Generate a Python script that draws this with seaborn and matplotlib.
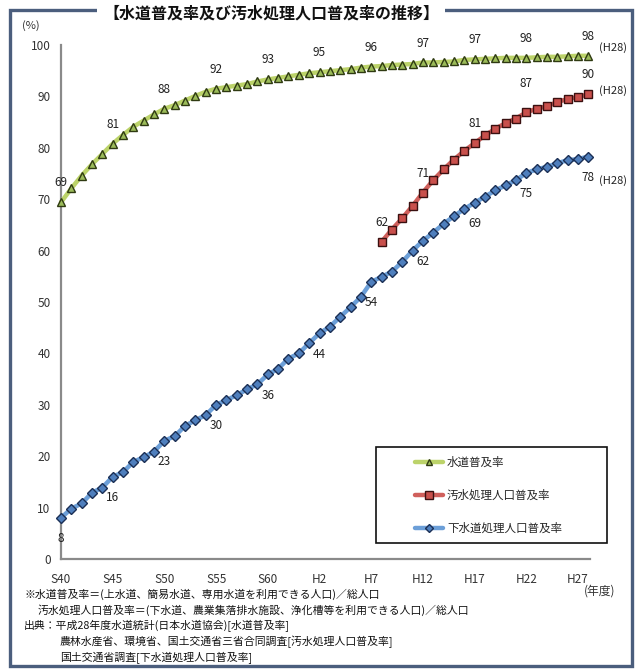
import numpy as np
import pandas as pd
import matplotlib
matplotlib.use("Agg")
import matplotlib.pyplot as plt
from matplotlib.patches import Rectangle
import seaborn as sns

sns.set_style("white")
plt.rcParams["font.family"] = ["Noto Sans CJK JP", "DejaVu Sans"]

# fiscal years S40 (1965) .. H28 (2016)
years = list(range(1965, 2017))
tick_years = [1965, 1970, 1975, 1980, 1985, 1990, 1995, 2000, 2005, 2010, 2015]
tick_labels = ["S40", "S45", "S50", "S55", "S60", "H2", "H7", "H12", "H17", "H22", "H27"]

# 水道普及率 (%)
water = [69.4, 72.1, 74.6, 76.8, 78.8, 80.8, 82.5, 84.1, 85.3, 86.5,
         87.6, 88.3, 89.2, 90.1, 90.9, 91.5, 91.8, 92.1, 92.4, 92.9,
         93.3, 93.6, 93.9, 94.2, 94.5, 94.7, 94.9, 95.1, 95.3, 95.6,
         95.8, 95.9, 96.1, 96.2, 96.3, 96.6, 96.6, 96.7, 96.8, 97.1,
         97.2, 97.3, 97.4, 97.5, 97.5, 97.5, 97.6, 97.7, 97.7, 97.8,
         97.9, 97.9]

# 汚水処理人口普及率 (%), H8 (1996) ..
sewage_years = list(range(1996, 2017))
sewage = [61.7, 64.1, 66.3, 68.7, 71.3, 73.7, 75.8, 77.7, 79.4, 80.9,
          82.4, 83.7, 84.8, 85.7, 86.9, 87.6, 88.1, 88.9, 89.5, 89.9,
          90.4]

# 下水道処理人口普及率 (%)
sewer = [8.0, 9.8, 10.8, 12.9, 13.9, 16.0, 16.9, 18.9, 19.8, 20.9,
         23.0, 23.9, 25.9, 27.0, 28.0, 30.0, 30.9, 31.9, 33.0, 34.0,
         35.9, 37.0, 39.0, 40.0, 42.0, 43.9, 45.2, 47.1, 49.0, 51.0,
         53.9, 54.9, 55.9, 57.8, 60.0, 61.9, 63.5, 65.2, 66.7, 68.1,
         69.3, 70.5, 71.7, 72.7, 73.7, 75.1, 75.8, 76.3, 77.0, 77.6,
         77.8, 78.3]

labelled_water = [1965, 1970, 1975, 1980, 1985, 1990, 1995, 2000, 2005, 2010, 2016]
labelled_sewage = [1996, 2000, 2005, 2010, 2016]
labelled_sewer = [1965, 1970, 1975, 1980, 1985, 1990, 1995, 2000, 2005, 2010, 2016]

W, H = 636, 670
fig = plt.figure(figsize=(W / 100, H / 100), dpi=100)
fig.patch.set_facecolor("white")

def fx(px):
    return px / W

def fy(py):
    return 1 - py / H

ax = fig.add_axes([fx(61), fy(559), fx(590) - fx(61), fy(45) - fy(559)])

df_w = pd.DataFrame({"year": years, "rate": water})
df_s = pd.DataFrame({"year": sewage_years, "rate": sewage})
df_d = pd.DataFrame({"year": years, "rate": sewer})

sns.lineplot(data=df_w, x="year", y="rate", ax=ax, color="#bcd36a", lw=3.2,
             marker="^", markersize=5.6, markerfacecolor="#9bbb59",
             markeredgecolor="#2f3a12", markeredgewidth=1.0,
             label="水道普及率", clip_on=False, zorder=5)
sns.lineplot(data=df_s, x="year", y="rate", ax=ax, color="#d0605c", lw=3.2,
             marker="s", markersize=6.0, markerfacecolor="#c9504c",
             markeredgecolor="#3a1010", markeredgewidth=1.0,
             label="汚水処理人口普及率", clip_on=False, zorder=5)
sns.lineplot(data=df_d, x="year", y="rate", ax=ax, color="#6c9fd8", lw=3.2,
             marker="D", markersize=4.6, markerfacecolor="#4f7fbd",
             markeredgecolor="#1b2f55", markeredgewidth=1.0,
             label="下水道処理人口普及率", clip_on=False, zorder=5)

ax.set_xlim(1965, 2016.16)
ax.set_ylim(0, 100)
ax.set_xlabel("")
ax.set_ylabel("")
ax.set_xticks(tick_years)
ax.set_xticklabels(tick_labels)
ax.set_yticks(range(0, 101, 10))
ax.tick_params(axis="both", labelsize=8.5, labelcolor="#333333", color="#888888",
               length=4, width=1.2, direction="out")
ax.tick_params(axis="x", pad=6)
for side in ("top", "right"):
    ax.spines[side].set_visible(False)
for side in ("left", "bottom"):
    ax.spines[side].set_color("#8a8a8a")
    ax.spines[side].set_linewidth(1.6)

lab_kw = dict(textcoords="offset points", ha="center", va="center",
              fontsize=8.5, color="#222222", zorder=6)
for yr, v in zip(years, water):
    if yr in labelled_water:
        ax.annotate(f"{v:.0f}", (yr, v), xytext=(0, 14), **lab_kw)
for yr, v in zip(sewage_years, sewage):
    if yr in labelled_sewage:
        dy = 21 if yr == 2010 else 14
        ax.annotate(f"{v:.0f}", (yr, v), xytext=(0, dy), **lab_kw)
for yr, v in zip(years, sewer):
    if yr in labelled_sewer:
        ax.annotate(f"{v:.0f}", (yr, v), xytext=(0, -15), **lab_kw)

# fiscal-year tag beside each final value
ax.annotate("(H28)", (2016, water[-1]), xytext=(18, 6), textcoords="offset points",
            ha="center", va="center", fontsize=8, color="#222222", annotation_clip=False)
ax.annotate("(H28)", (2016, sewage[-1]), xytext=(18, 3), textcoords="offset points",
            ha="center", va="center", fontsize=8, color="#222222", annotation_clip=False)
ax.annotate("(H28)", (2016, sewer[-1]), xytext=(18, -17), textcoords="offset points",
            ha="center", va="center", fontsize=8, color="#222222", annotation_clip=False)

# legend inside a plain black box
leg = ax.legend(loc="upper left", bbox_to_anchor=(fx(410), fy(451)),
                bbox_transform=fig.transFigure, frameon=False, fontsize=8.3,
                labelspacing=1.75, handlelength=2.5, handletextpad=0.3,
                borderaxespad=0, markerscale=0.85)
fig.add_artist(Rectangle((fx(376), fy(543)), fx(607) - fx(376), fy(447) - fy(543),
                         transform=fig.transFigure, fill=False, edgecolor="#111111",
                         lw=1.2, zorder=4))

# outer frame with title breaking the top edge
fig.add_artist(Rectangle((fx(10), fy(666)), fx(632) - fx(10), fy(9.5) - fy(666),
                         transform=fig.transFigure, fill=False, edgecolor="#4b5e7d",
                         lw=2.4, zorder=1))
fig.text(fx(271), fy(14), "【水道普及率及び汚水処理人口普及率の推移】", ha="center", va="center",
         fontsize=11.5, fontweight="bold", color="#111111", zorder=3,
         bbox=dict(boxstyle="square,pad=0.35", facecolor="white", edgecolor="none"))

fig.text(fx(31), fy(26), "(%)", ha="center", va="center", fontsize=8, color="#333333")
fig.text(fx(600), fy(591), "(年度)", ha="center", va="center", fontsize=8.5, color="#333333")

note_kw = dict(ha="left", va="center", fontsize=7.8, color="#111111")
fig.text(fx(24), fy(594), "※水道普及率＝(上水道、簡易水道、専用水道を利用できる人口)／総人口", **note_kw)
fig.text(fx(38), fy(610), "汚水処理人口普及率＝(下水道、農業集落排水施設、浄化槽等を利用できる人口)／総人口", **note_kw)
fig.text(fx(24), fy(626), "出典：平成28年度水道統計(日本水道協会)[水道普及率]", **note_kw)
fig.text(fx(60), fy(642), "農林水産省、環境省、国土交通省三省合同調査[汚水処理人口普及率]", **note_kw)
fig.text(fx(60), fy(658), "国土交通省調査[下水道処理人口普及率]", **note_kw)

fig.savefig("out.png", dpi=100, facecolor="white")
